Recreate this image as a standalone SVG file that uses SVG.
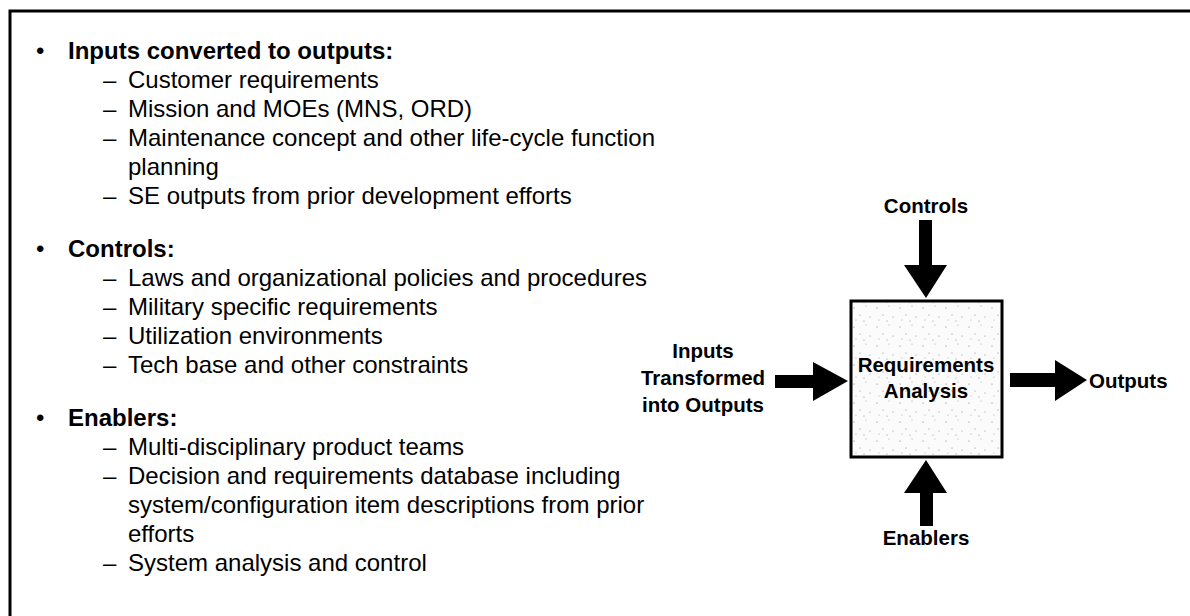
<svg xmlns="http://www.w3.org/2000/svg" width="1190" height="616" viewBox="0 0 1190 616">
<style>
  .t { font-family: "Liberation Sans", Arial, sans-serif; font-size: 24px; fill: #000; }
  .b { font-weight: bold; }
  .lbl { font-family: "Liberation Sans", Arial, sans-serif; font-size: 20.5px; font-weight: bold; fill: #000; }
  .arrow { fill: #000; stroke: none; }
</style>
<defs>
  <pattern id="stip" width="23" height="19" patternUnits="userSpaceOnUse">
    <rect width="23" height="19" fill="#fbfbfb"/>
    <circle cx="3" cy="4" r="0.6" fill="#777"/>
    <circle cx="15" cy="2" r="0.5" fill="#999"/>
    <circle cx="9" cy="11" r="0.6" fill="#888"/>
    <circle cx="19" cy="13" r="0.5" fill="#777"/>
    <circle cx="5" cy="16" r="0.5" fill="#999"/>
    <circle cx="13" cy="17" r="0.6" fill="#888"/>
  </pattern>
</defs>
<rect width="1190" height="616" fill="#fff"/>
<path d="M10,616 V11 H1190" fill="none" stroke="#000" stroke-width="3"/>

<g id="text-list">
  <text class="t" x="36" y="59">•</text>
  <text class="t b" x="68" y="59">Inputs converted to outputs:</text>
  <text class="t" x="103" y="88">–</text><text class="t" x="128" y="88">Customer requirements</text>
  <text class="t" x="103" y="117">–</text><text class="t" x="128" y="117">Mission and MOEs (MNS, ORD)</text>
  <text class="t" x="103" y="146">–</text><text class="t" x="128" y="146">Maintenance concept and other life-cycle function</text>
  <text class="t" x="128" y="175">planning</text>
  <text class="t" x="103" y="204">–</text><text class="t" x="128" y="204">SE outputs from prior development efforts</text>

  <text class="t" x="36" y="257">•</text>
  <text class="t b" x="68" y="257">Controls:</text>
  <text class="t" x="103" y="286">–</text><text class="t" x="128" y="286">Laws and organizational policies and procedures</text>
  <text class="t" x="103" y="315">–</text><text class="t" x="128" y="315">Military specific requirements</text>
  <text class="t" x="103" y="344">–</text><text class="t" x="128" y="344">Utilization environments</text>
  <text class="t" x="103" y="373">–</text><text class="t" x="128" y="373">Tech base and other constraints</text>

  <text class="t" x="36" y="426">•</text>
  <text class="t b" x="68" y="426">Enablers:</text>
  <text class="t" x="103" y="455">–</text><text class="t" x="128" y="455">Multi-disciplinary product teams</text>
  <text class="t" x="103" y="484">–</text><text class="t" x="128" y="484">Decision and requirements database including</text>
  <text class="t" x="128" y="513">system/configuration item descriptions from prior</text>
  <text class="t" x="128" y="542">efforts</text>
  <text class="t" x="103" y="571">–</text><text class="t" x="128" y="571">System analysis and control</text>
</g>

<g id="req-analysis">
  <rect x="851" y="301" width="151" height="156" fill="url(#stip)" stroke="#000" stroke-width="3"/>
  <text class="lbl" x="926" y="372" text-anchor="middle">Requirements</text>
  <text class="lbl" x="926" y="398" text-anchor="middle">Analysis</text>
</g>

<g id="controls-label">
  <text class="lbl" x="926" y="213" text-anchor="middle">Controls</text>
</g>
<g id="inputs-label">
  <text class="lbl" x="703" y="358" text-anchor="middle">Inputs</text>
  <text class="lbl" x="703" y="385" text-anchor="middle">Transformed</text>
  <text class="lbl" x="703" y="412" text-anchor="middle">into Outputs</text>
</g>
<g id="outputs-label">
  <text class="lbl" x="1089" y="388">Outputs</text>
</g>
<g id="enablers-label">
  <text class="lbl" x="926" y="545" text-anchor="middle">Enablers</text>
</g>

<g id="connectors">
  <polygon class="arrow" points="919,220 932,220 932,265 947,265 926,298 904,265 919,265"/>
  <polygon class="arrow" points="775,375 813,375 813,362 848,381 813,401 813,388 775,388"/>
  <polygon class="arrow" points="1010,373 1055,373 1055,360 1087,380 1055,401 1055,387 1010,387"/>
  <polygon class="arrow" points="926,460 947,493 933,493 933,526 920,526 920,493 904,493"/>
</g>
</svg>
